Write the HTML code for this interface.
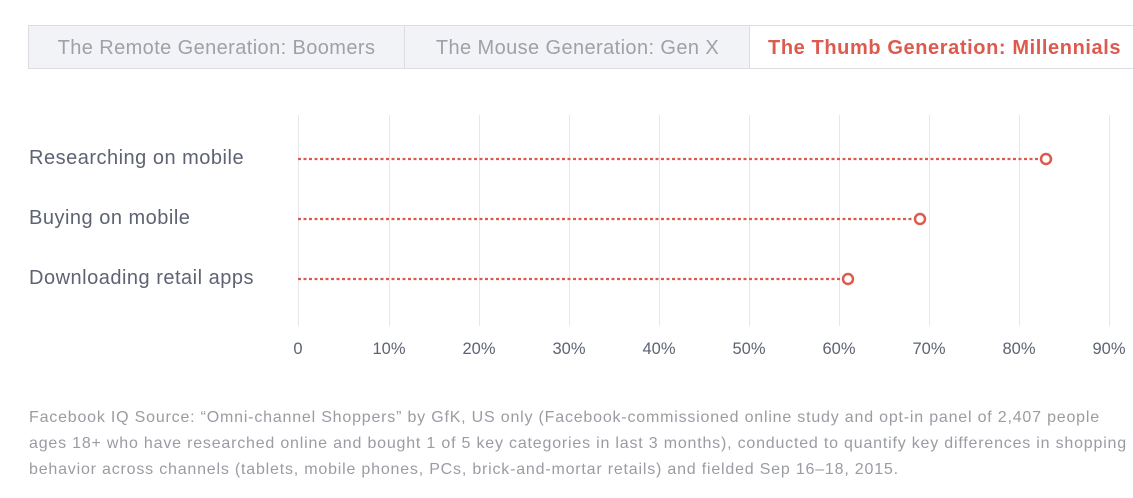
<!DOCTYPE html>
<html><head><style>
body{margin:0;width:1133px;height:498px;background:#fff;font-family:"Liberation Sans",sans-serif;position:relative;overflow:hidden}
.tabs{position:absolute;left:28px;top:25px;width:1110px;height:44px;border:1px solid #dcdde2;background:#f2f3f6;box-sizing:border-box}
.tab{position:absolute;top:0;height:42px;line-height:44px;font-size:20px;letter-spacing:0.4px;color:#9ea1a8;text-align:center;white-space:nowrap}
.lbl{position:absolute;left:29px;font-size:20px;letter-spacing:0.5px;color:#5d6372}
.tick{position:absolute;top:340px;font-size:16.5px;color:#5d6372;transform:translateX(-50%)}
.foot{position:absolute;left:29px;top:405px;font-size:16px;letter-spacing:0.8px;line-height:26px;color:#9a9ca3;width:1120px;white-space:nowrap}
</style></head><body>
<div class="tabs">
<div class="tab" style="left:0;width:375px">The Remote Generation: Boomers</div>
<div class="tab" style="left:375px;width:345px;border-left:1px solid #dcdde2">The Mouse Generation: Gen X</div>
<div class="tab" style="left:720px;width:390px;border-left:1px solid #dcdde2;background:#fff;color:#dd5a4f;font-weight:bold;text-align:left;padding-left:18px;box-sizing:border-box;letter-spacing:0.6px">The Thumb Generation: Millennials</div>
</div>
<svg style="position:absolute;left:0;top:0" width="1133" height="498">
<g stroke="#e6e7ea" stroke-width="1">
<line x1="298.5" y1="115" x2="298.5" y2="326"/><line x1="389.5" y1="115" x2="389.5" y2="326"/><line x1="479.5" y1="115" x2="479.5" y2="326"/><line x1="569.5" y1="115" x2="569.5" y2="326"/><line x1="659.5" y1="115" x2="659.5" y2="326"/><line x1="749.5" y1="115" x2="749.5" y2="326"/><line x1="839.5" y1="115" x2="839.5" y2="326"/><line x1="929.5" y1="115" x2="929.5" y2="326"/><line x1="1019.5" y1="115" x2="1019.5" y2="326"/><line x1="1109.5" y1="115" x2="1109.5" y2="326"/>
</g>
<g stroke="#dd5a4f" stroke-width="2.2" stroke-dasharray="3 2.5" fill="none">
<line x1="298" y1="159" x2="1041" y2="159"/>
<line x1="298" y1="219" x2="914" y2="219"/>
<line x1="298" y1="279" x2="842" y2="279"/>
</g>
<g stroke="#dd5a4f" stroke-width="2.5" fill="#fff">
<circle cx="1046" cy="159" r="5"/><circle cx="920" cy="219" r="5"/><circle cx="848" cy="279" r="5"/>
</g>
</svg>
<div class="lbl" style="top:147px">Researching on mobile</div>
<div class="lbl" style="top:207px">Buying on mobile</div>
<div class="lbl" style="top:267px">Downloading retail apps</div>
<div class="tick" style="left:298px">0</div>
<div class="tick" style="left:389px">10%</div>
<div class="tick" style="left:479px">20%</div>
<div class="tick" style="left:569px">30%</div>
<div class="tick" style="left:659px">40%</div>
<div class="tick" style="left:749px">50%</div>
<div class="tick" style="left:839px">60%</div>
<div class="tick" style="left:929px">70%</div>
<div class="tick" style="left:1019px">80%</div>
<div class="tick" style="left:1109px">90%</div>
<div class="foot">Facebook IQ Source: “Omni-channel Shoppers” by GfK, US only (Facebook-commissioned online study and opt-in panel of 2,407 people<br>ages 18+ who have researched online and bought 1 of 5 key categories in last 3 months), conducted to quantify key differences in shopping<br>behavior across channels (tablets, mobile phones, PCs, brick-and-mortar retails) and fielded Sep 16–18, 2015.</div>
</body></html>
